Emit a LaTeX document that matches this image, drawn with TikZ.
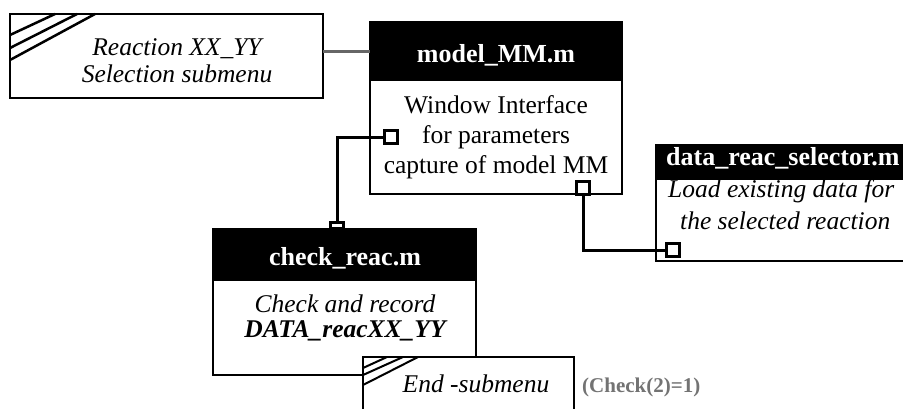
\documentclass[tikz,border=0pt]{standalone}
\usepackage{fontspec}
\setmainfont{Liberation Serif}
\begin{document}
\begin{tikzpicture}[x=1pt,y=-1pt,
  frame/.style={draw=black, line width=2pt, fill=white, inner sep=0pt, outer sep=0pt, anchor=north west},
  head/.style={fill=black, draw=black, line width=2pt, inner sep=0pt, outer sep=0pt, anchor=north west},
  port/.style={draw=black, line width=3pt, fill=white, minimum size=13pt, inner sep=0pt, outer sep=0pt},
  wire/.style={line width=3pt},
  ttl/.style={text=white, font=\fontsize{26}{30}\selectfont\bfseries, anchor=base, inner sep=0pt},
  body/.style={font=\fontsize{25.5}{30}\selectfont, anchor=base, inner sep=0pt},
  hatch/.style={line width=2.5pt}]
\useasboundingbox (0,0) rectangle (903,408);
\clip (0,0) rectangle (903,408);
\fill[white] (0,0) rectangle (903,408);

% Reaction selection submenu
\node[frame, line width=2.8pt, minimum width=313pt, minimum height=84pt] (sel) at (10,14) {};
\draw[hatch] (10,35) -- (55,14);
\draw[hatch] (10,48) -- (77,14);
\draw[hatch] (10,60) -- (95,14);
\node[body, font=\fontsize{25.5}{30}\selectfont\itshape] (selt1) at (177,55) {Reaction XX\_YY};
\node[body, font=\fontsize{25.5}{30}\selectfont\itshape] (selt2) at (177,82) {Selection submenu};

% model_MM.m
\node[head, minimum width=252pt, minimum height=58pt] (mmh) at (370,22) {};
\node[frame, minimum width=252pt, minimum height=114pt] (mmb) at (370,80) {};
\node[ttl] (mmt) at (496,62) {model\_MM.m};
\node[body] (mm1) at (496,113) {Window Interface};
\node[body] (mm2) at (496,143) {for parameters};
\node[body] (mm3) at (496,173) {capture of model MM};

\draw[line width=3pt, black!60] (sel.east |- 0,51) -- (mmh.west |- 0,51);

% check_reac.m
\node[head, minimum width=263pt, minimum height=51pt] (ckh) at (213,229) {};
\node[frame, minimum width=263pt, minimum height=95pt] (ckb) at (213,280) {};
\node[ttl] (ckt) at (345,265) {check\_reac.m};
\node[body, font=\fontsize{25.5}{30}\selectfont\itshape] (ck1) at (345,312) {Check and record};
\node[body, font=\fontsize{25.5}{30}\selectfont\bfseries\itshape] (ck2) at (345,337) {DATA\_reacXX\_YY};

% data_reac_selector.m
\node[head, minimum width=262pt, minimum height=34pt] (dth) at (656,145) {};
\node[frame, minimum width=262pt, minimum height=82pt] (dtb) at (656,179) {};
\node[ttl, anchor=base west] (dtt) at (666,165) {data\_reac\_selector.m};
\node[body, anchor=base west, font=\fontsize{25.5}{30}\selectfont\itshape] (dt1) at (668,197) {Load existing data for};
\node[body, anchor=base west, font=\fontsize{25.5}{30}\selectfont\itshape] (dt2) at (680,229) {the selected reaction};

% End submenu
\node[frame, minimum width=211pt, minimum height=80pt] (endb) at (363,357) {};
\draw[line width=2pt] (363,368) -- (387,357);
\draw[line width=2pt] (363,375) -- (403,357);
\draw[line width=2pt] (363,385) -- (418,357);
\node[body, font=\fontsize{25.5}{30}\selectfont\itshape] (endt) at (476,392) {End -submenu};
\node[anchor=base west, inner sep=0pt, text=black!55, font=\fontsize{21}{25}\selectfont\bfseries] (cond) at (582,392) {(Check(2)=1)};

% connectors
\node[port, minimum width=13pt, minimum height=6pt] (p0) at (337,225.5) {};
\node[port] (p1) at (391,137) {};
\coordinate (c1) at (337,137);
\draw[wire] (p0.north) -- (c1) -- (p1.west);
\node[port] (p2) at (583,188) {};
\node[port] (p3) at (673,250) {};
\draw[wire] (p2.south) |- (p3.west);
\end{tikzpicture}
\end{document}
